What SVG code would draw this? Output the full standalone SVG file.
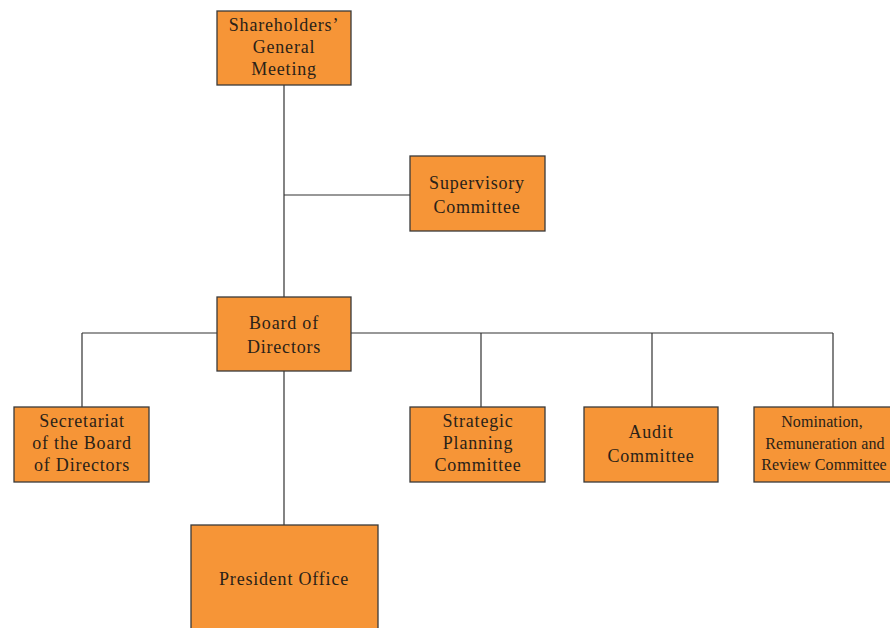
<svg xmlns="http://www.w3.org/2000/svg" width="890" height="628" viewBox="0 0 890 628">
<style>
.box{fill:#F69537;stroke:#3a3a3a;stroke-width:1.3}
.t{font-family:"Liberation Serif",serif;font-size:18px;letter-spacing:0.8px;fill:#2a2218;text-anchor:middle}
.s{font-family:"Liberation Serif",serif;font-size:16px;letter-spacing:0.1px;fill:#2a2218;text-anchor:middle}
.c{stroke:#333;stroke-width:1.2;fill:none}
</style>
<rect width="890" height="628" fill="#fff"/>
<g id="connectors">
<path class="c" d="M284 85V297M284 195H410M82 333H833M82 333V407M481 333V407M652 333V407M833 333V407M284 371V525"/>
</g>
<g id="shareholders">
<rect class="box" x="217" y="11" width="134" height="74"/>
<text class="t" x="284" y="31">Shareholders’</text>
<text class="t" x="284" y="53">General</text>
<text class="t" x="284" y="75">Meeting</text>
</g>
<g id="supervisory">
<rect class="box" x="410" y="156" width="135" height="75"/>
<text class="t" x="477" y="189">Supervisory</text>
<text class="t" x="477" y="213">Committee</text>
</g>
<g id="board">
<rect class="box" x="217" y="297" width="134" height="74"/>
<text class="t" x="284" y="329">Board of</text>
<text class="t" x="284" y="353">Directors</text>
</g>
<g id="secretariat">
<rect class="box" x="14" y="407" width="135" height="75"/>
<text class="t" x="82" y="427">Secretariat</text>
<text class="t" x="82" y="449">of the Board</text>
<text class="t" x="82" y="471">of Directors</text>
</g>
<g id="strategic">
<rect class="box" x="410" y="407" width="135" height="75"/>
<text class="t" x="478" y="427">Strategic</text>
<text class="t" x="478" y="449">Planning</text>
<text class="t" x="478" y="471">Committee</text>
</g>
<g id="audit">
<rect class="box" x="584" y="407" width="134" height="75"/>
<text class="t" x="651" y="438">Audit</text>
<text class="t" x="651" y="462">Committee</text>
</g>
<g id="nomination">
<rect class="box" x="754" y="407" width="140" height="75"/>
<text class="s" x="822" y="427">Nomination,</text>
<text class="s" x="825" y="449">Remuneration and</text>
<text class="s" x="824" y="470">Review Committee</text>
</g>
<g id="president">
<rect class="box" x="191" y="525" width="187" height="110"/>
<text class="t" x="284" y="585">President Office</text>
</g>
</svg>
